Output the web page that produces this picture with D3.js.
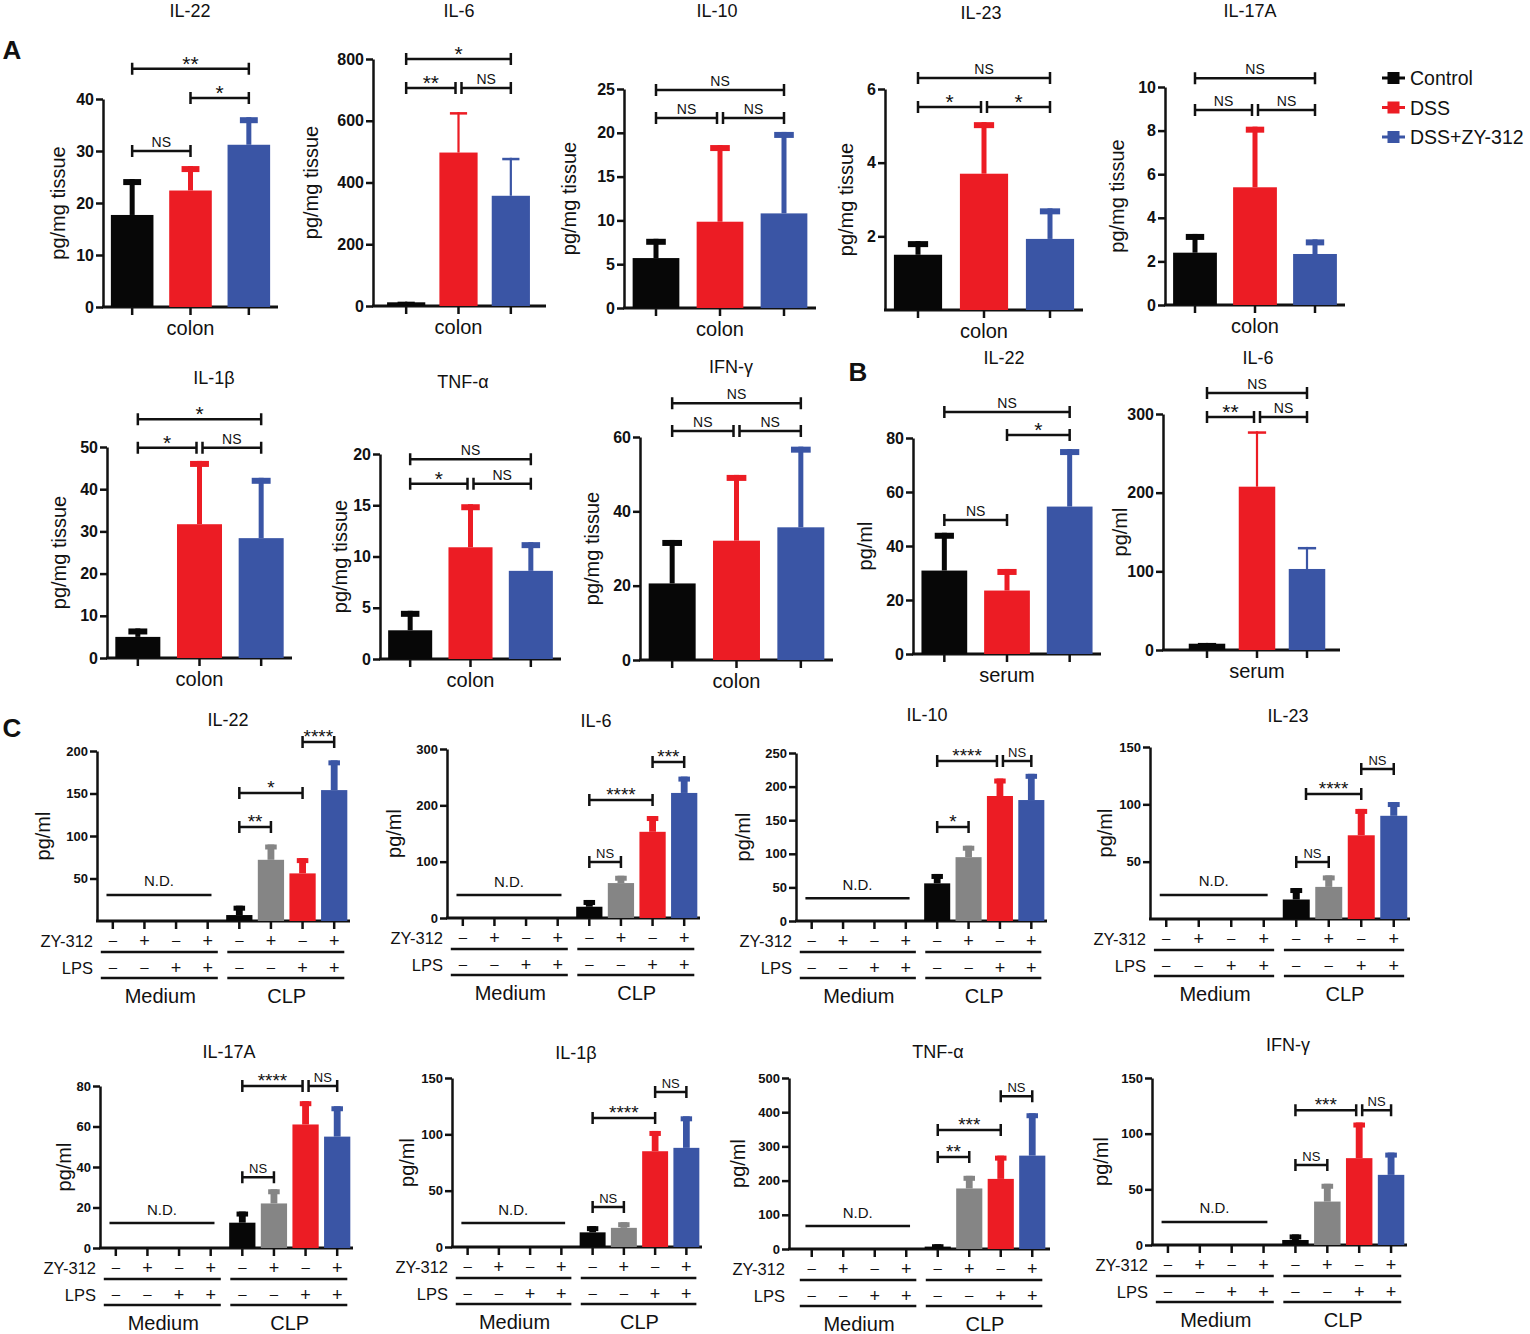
<!DOCTYPE html>
<html>
<head>
<meta charset="utf-8">
<script src="https://cdn.jsdelivr.net/npm/d3@7"></script>
<style>
  body { margin: 0; background: #fff; }
  svg { display: block; font-family: 'Liberation Sans', Arial, sans-serif; }
</style>
</head>
<body>
<svg id="fig" width="1530" height="1334"></svg>
<script>
// Cytokine bar panels (A: colon tissue, B: serum, C: cultured cells).

// ---- data ----
const dssGroups = ['Control', 'DSS', 'DSS+ZY-312'];

// A: colon, pg/mg tissue
const colonCytokines = ['IL-22', 'IL-6', 'IL-10', 'IL-23', 'IL-17A', 'IL-1β', 'TNF-α', 'IFN-γ'];
const colonMeans = [
  [17.7, 22.4, 31.2],
  [12, 497, 357],
  [5.7, 9.85, 10.8],
  [1.5, 3.7, 1.93],
  [2.4, 5.4, 2.34],
  [5, 31.7, 28.4],
  [2.8, 10.9, 8.6],
  [20.6, 32.1, 35.7],
];
const colonErrTops = [
  [24.6, 27.1, 36.5],
  [14, 628, 480],
  [7.9, 18.6, 20.1],
  [1.87, 5.1, 2.76],
  [3.26, 8.18, 3.01],
  [7, 46.7, 42.7],
  [4.7, 15.1, 11.4],
  [32.3, 49.8, 57.4],
];
const colonMax = [40, 800, 25, 6, 10, 50, 20, 60];
const colonTicks = [
  [0, 10, 20, 30, 40],
  [0, 200, 400, 600, 800],
  [0, 5, 10, 15, 20, 25],
  [2, 4, 6],
  [0, 2, 4, 6, 8, 10],
  [0, 10, 20, 30, 40, 50],
  [0, 5, 10, 15, 20],
  [0, 20, 40, 60],
];
// [from group, to group, label, level in data units]
const colonSig = [
  [[0, 2, '**', 45.8], [1, 2, '*', 40.2], [0, 1, 'NS', 30]],
  [[0, 2, '*', 800], [0, 1, '**', 706], [1, 2, 'NS', 706]],
  [[0, 2, 'NS', 24.9], [0, 1, 'NS', 21.7], [1, 2, 'NS', 21.7]],
  [[0, 2, 'NS', 6.3], [0, 1, '*', 5.51], [1, 2, '*', 5.51]],
  [[0, 2, 'NS', 10.4], [0, 1, 'NS', 8.94], [1, 2, 'NS', 8.94]],
  [[0, 2, '*', 56.6], [0, 1, '*', 49.8], [1, 2, 'NS', 49.8]],
  [[0, 2, 'NS', 19.5], [0, 1, '*', 17.1], [1, 2, 'NS', 17.1]],
  [[0, 2, 'NS', 69.1], [0, 1, 'NS', 61.6], [1, 2, 'NS', 61.6]],
];

// B: serum, pg/ml
const serumCytokines = ['IL-22', 'IL-6'];
const serumMeans = [[30.9, 23.5, 54.6], [8, 207.6, 103]];
const serumErrTops = [[44.9, 31.5, 75.9], [9, 278, 131]];
const serumMax = [80, 300];
const serumTicks = [[0, 20, 40, 60, 80], [0, 100, 200, 300]];
const serumSig = [
  [[0, 2, 'NS', 89.6], [1, 2, '*', 81.1], [0, 1, 'NS', 49.6]],
  [[0, 2, 'NS', 326.7], [0, 1, '**', 296.2], [1, 2, 'NS', 296.2]],
];

// C: Medium lanes 0-3 are N.D., CLP lanes 4-7 carry the values
const clpCytokines = ['IL-22', 'IL-6', 'IL-10', 'IL-23', 'IL-17A', 'IL-1β', 'TNF-α', 'IFN-γ'];
const cultureGroups = ['Medium', 'CLP'];
const zyRow = ['–', '+', '–', '+', '–', '+', '–', '+'];
const lpsRow = ['–', '–', '+', '+', '–', '–', '+', '+'];
const clpLanes = [4, 5, 6, 7];
const clpMeans = [
  [7, 72, 56, 154],
  [20, 62, 153, 222],
  [56, 95, 186, 180],
  [17, 28, 73, 90],
  [12.5, 22, 61, 55],
  [13, 17, 85, 88],
  [7, 177, 205, 273],
  [4.5, 39, 78, 63],
];
const clpErrTops = [
  [18, 90, 74, 189],
  [32, 75, 181, 251],
  [70, 112, 212, 219],
  [27, 38, 96, 102],
  [18, 29, 72.5, 70],
  [18.5, 22, 103, 116],
  [14, 214, 273, 397],
  [9.5, 55, 110, 83],
];
const clpMax = [200, 300, 250, 150, 80, 150, 500, 150];
const clpTicks = [
  [50, 100, 150, 200],
  [0, 100, 200, 300],
  [0, 50, 100, 150, 200, 250],
  [50, 100, 150],
  [0, 20, 40, 60, 80],
  [0, 50, 100, 150],
  [0, 100, 200, 300, 400, 500],
  [0, 50, 100, 150],
];
const clpSig = [
  [[6, 7, '****', 210.6], [4, 6, '*', 150.6], [4, 5, '**', 110.6]],
  [[6, 7, '***', 277], [4, 6, '****', 209.5], [4, 5, 'NS', 99.4]],
  [[4, 6, '****', 238], [6, 7, 'NS', 238], [4, 5, '*', 140]],
  [[6, 7, 'NS', 130.8], [4.3, 6, '****', 109], [4, 5, 'NS', 49.7]],
  [[4, 6, '****', 80], [6, 7, 'NS', 80], [4, 5, 'NS', 35]],
  [[6, 7, 'NS', 137.6], [4, 6, '****', 114.5], [4, 5, 'NS', 35.5]],
  [[6, 7, 'NS', 447], [4, 6, '***', 348], [4, 5, '**', 269]],
  [[4, 6, '***', 121], [6, 7, 'NS', 121], [4, 5, 'NS', 71.9]],
];
const clpND = [30.6, 40.8, 34, 21, 12.3, 21.3, 67, 20.7];

// ---- layout (pixel frames for each panel) ----
const colonLayout = [
  { x0: 103, x1: 278, yTop: 99, yBase: 307, yLab: 58, title: [190, 11] },
  { x0: 373, x1: 546, b0: 380, b1: 537, yTop: 59, yBase: 306, yLab: 311, title: [459, 11], thin: true },
  { x0: 624, x1: 816, yTop: 89, yBase: 308, yLab: 569, title: [717, 11] },
  { x0: 885, x1: 1083, yTop: 89, yBase: 310, yLab: 846, title: [981, 13] },
  { x0: 1165, x1: 1345, yTop: 87, yBase: 305, yLab: 1117, title: [1250, 11] },
  { x0: 107, x1: 292, yTop: 447, yBase: 658, yLab: 59, title: [214, 378] },
  { x0: 380, x1: 561, yTop: 454, yBase: 659, yLab: 340, title: [463, 382] },
  { x0: 640, x1: 833, yTop: 437, yBase: 660, yLab: 592, title: [731, 367] },
];
const serumLayout = [
  { x0: 913, x1: 1101, yTop: 438, yBase: 654, yLab: 865, title: [1004, 358] },
  { x0: 1163, x1: 1340, b0: 1182, b1: 1332, yTop: 414, yBase: 650, yLab: 1120, title: [1258, 358], thin: true },
];
const clpLayout = [
  { x0: 97, x1: 350, yTop: 751, yBase: 921, yLab: 43, title: [228, 720] },
  { x0: 447, x1: 700, yTop: 749, yBase: 918, yLab: 394, title: [596, 721] },
  { x0: 796, x1: 1047, yTop: 753, yBase: 921, yLab: 743, title: [927, 715] },
  { x0: 1150, x1: 1410, yTop: 747, yBase: 919, yLab: 1105, title: [1288, 716] },
  { x0: 100, x1: 353, yTop: 1086, yBase: 1248, yLab: 64, title: [229, 1052] },
  { x0: 452, x1: 702, yTop: 1078, yBase: 1247, yLab: 407, title: [576, 1053] },
  { x0: 789, x1: 1050, b0: 796, b1: 1048, yTop: 1078, yBase: 1249, yLab: 738, title: [938, 1052] },
  { x0: 1152, x1: 1407, yTop: 1078, yBase: 1245, yLab: 1101, title: [1288, 1045] },
];

const DSS_COLORS = ['#070707', '#ec1c24', '#3a55a5'];
const CLP_COLORS = ['#070707', '#858585', '#ec1c24', '#3a55a5'];
const FONT = "'Liberation Sans', Arial, sans-serif";

const svg = d3.select('#fig');

function addText(g, x, y, str, size, opts = {}) {
  return g.append('text')
    .attr('x', x).attr('y', y)
    .attr('font-size', size)
    .attr('font-family', FONT)
    .attr('font-weight', opts.bold ? 'bold' : 'normal')
    .attr('text-anchor', opts.anchor || 'middle')
    .attr('dominant-baseline', opts.baseline || 'central')
    .attr('fill', '#111')
    .text(str);
}

// Axes, title and y label for one panel; returns scales.
function frame(L, lanes, pad, max, ticks, tickFs, yTitle) {
  const g = svg.append('g');
  const x = d3.scaleBand()
    .domain(d3.range(lanes))
    .range([L.b0 ?? L.x0, L.b1 ?? L.x1])
    .paddingInner(pad)
    .paddingOuter(pad / 2);
  const y = d3.scaleLinear().domain([0, max]).range([L.yBase, L.yTop]);

  const ya = g.append('g')
    .attr('transform', `translate(${L.x0},0)`)
    .call(d3.axisLeft(y).tickValues(ticks).tickFormat(d3.format('d'))
      .tickSize(7).tickSizeOuter(0).tickPadding(2));
  ya.selectAll('text')
    .attr('font-size', tickFs).attr('font-weight', 'bold')
    .attr('font-family', FONT).attr('fill', '#111');
  ya.selectAll('line, path').attr('stroke', '#111').attr('stroke-width', 2.5);

  const xa = g.append('g')
    .attr('transform', `translate(0,${L.yBase})`)
    .call(d3.axisBottom(x).tickSize(8).tickFormat(''));
  xa.select('.domain').remove();
  xa.selectAll('line').attr('stroke', '#111').attr('stroke-width', 2.5);
  g.append('line')
    .attr('x1', L.x0 - 1).attr('x2', L.x1)
    .attr('y1', L.yBase).attr('y2', L.yBase)
    .attr('stroke', '#111').attr('stroke-width', 2.8);

  addText(g, 0, 0, yTitle, 20)
    .attr('transform', `translate(${L.yLab},${(L.yTop + L.yBase) / 2}) rotate(-90)`);
  return { g, x, y, L };
}

function laneCenter(P, lane) {
  return P.x(0) + P.x.bandwidth() / 2 + lane * P.x.step();
}

function bars(P, lanes, means, tops, colors, err) {
  const bw = P.x.bandwidth();
  lanes.forEach((lane, i) => {
    const cx = laneCenter(P, lane);
    const c = colors[i];
    const sw = err.stem(bw);
    const cw = err.cap(bw);
    P.g.append('rect')
      .attr('x', cx - sw / 2).attr('y', P.y(tops[i]))
      .attr('width', sw).attr('height', P.y(means[i]) - P.y(tops[i]))
      .attr('fill', c);
    P.g.append('rect')
      .attr('x', cx - cw / 2).attr('y', P.y(tops[i]))
      .attr('width', cw).attr('height', err.capH)
      .attr('fill', c);
    P.g.append('rect')
      .attr('x', P.x(lane)).attr('y', P.y(means[i]))
      .attr('width', bw).attr('height', P.y(0) - P.y(means[i]))
      .attr('fill', c);
  });
}

function brackets(P, sig, fsStar, fsNS) {
  sig.forEach((s) => {
    const [a, b, label, lvl] = s;
    // nudge ends apart where two brackets meet at the same height
    const joinA = sig.some((o) => o !== s && o[3] === lvl && o[1] === a);
    const joinB = sig.some((o) => o !== s && o[3] === lvl && o[0] === b);
    const xa = laneCenter(P, a) + (joinA ? 3 : 0);
    const xb = laneCenter(P, b) - (joinB ? 3 : 0);
    const yy = P.y(lvl);
    const path = d3.path();
    path.moveTo(xa, yy); path.lineTo(xb, yy);
    path.moveTo(xa, yy - 6); path.lineTo(xa, yy + 6);
    path.moveTo(xb, yy - 6); path.lineTo(xb, yy + 6);
    P.g.append('path').attr('d', path.toString())
      .attr('stroke', '#111').attr('stroke-width', 2.5).attr('fill', 'none');
    const star = label.includes('*');
    // asterisks sit high in the em box, so drop their baseline to centre them ~10px above the line
    const ty = star ? yy + 0.58 * fsStar - 10 : yy - 4;
    addText(P.g, (xa + xb) / 2, ty, label, star ? fsStar : fsNS, { baseline: 'auto' });
  });
}

function xLabel(P, lanes, str) {
  const cx = d3.mean(lanes, (l) => laneCenter(P, l));
  addText(P.g, cx, P.L.yBase + 21, str, 20);
}

// ---- panel A ----
colonCytokines.forEach((name, k) => {
  const L = colonLayout[k];
  const P = frame(L, 3, 0.27, colonMax[k], colonTicks[k], 16, 'pg/mg tissue');
  const err = L.thin
    ? { stem: () => 2.2, cap: (bw) => bw * 0.45, capH: 2.5 }
    : { stem: () => 5, cap: (bw) => bw * 0.42, capH: 6 };
  bars(P, [0, 1, 2], colonMeans[k], colonErrTops[k], DSS_COLORS, err);
  brackets(P, colonSig[k], 21, 14);
  xLabel(P, [0, 1, 2], 'colon');
  addText(P.g, L.title[0], L.title[1], name, 18);
});

// ---- panel B ----
serumCytokines.forEach((name, k) => {
  const L = serumLayout[k];
  const P = frame(L, 3, 0.27, serumMax[k], serumTicks[k], 16, 'pg/ml');
  const err = L.thin
    ? { stem: () => 2.2, cap: (bw) => bw * 0.5, capH: 2.5 }
    : { stem: () => 5, cap: (bw) => bw * 0.42, capH: 6 };
  bars(P, [0, 1, 2], serumMeans[k], serumErrTops[k], DSS_COLORS, err);
  brackets(P, serumSig[k], 21, 14);
  xLabel(P, [0, 1, 2], 'serum');
  addText(P.g, L.title[0], L.title[1], name, 18);
});

// ---- panel C ----
clpCytokines.forEach((name, k) => {
  const L = clpLayout[k];
  const P = frame(L, 8, 0.17, clpMax[k], clpTicks[k], 13, 'pg/ml');
  const step = P.x.step();
  bars(P, clpLanes, clpMeans[k], clpErrTops[k], CLP_COLORS,
    { stem: (bw) => bw * 0.26, cap: (bw) => bw * 0.44, capH: 5 });
  brackets(P, clpSig[k], 19, 13);

  // N.D. line over the medium lanes
  const ndY = P.y(clpND[k]);
  const nx0 = laneCenter(P, 0) - 0.2 * step;
  const nx1 = laneCenter(P, 3) + 0.12 * step;
  P.g.append('line').attr('x1', nx0).attr('x2', nx1).attr('y1', ndY).attr('y2', ndY)
    .attr('stroke', '#111').attr('stroke-width', 2.5);
  addText(P.g, (nx0 + nx1) / 2, ndY - 14, 'N.D.', 15);

  // treatment rows
  const rows = [['ZY-312', zyRow, 20, 31], ['LPS', lpsRow, 47, 57]];
  rows.forEach(([lab, signs, off, ul]) => {
    addText(P.g, L.x0 - 4, L.yBase + off, lab, 16.5, { anchor: 'end' });
    signs.forEach((s, i) => {
      addText(P.g, laneCenter(P, i), L.yBase + off - (s === '+' ? 0 : 2), s, s === '+' ? 18 : 15);
    });
    [0, 4].forEach((first) => {
      P.g.append('line')
        .attr('x1', laneCenter(P, first) - 0.38 * step)
        .attr('x2', laneCenter(P, first + 3) + 0.32 * step)
        .attr('y1', L.yBase + ul).attr('y2', L.yBase + ul)
        .attr('stroke', '#111').attr('stroke-width', 2.5);
    });
  });
  cultureGroups.forEach((grp, gi) => {
    const cx = (laneCenter(P, gi * 4) + laneCenter(P, gi * 4 + 3)) / 2;
    addText(P.g, cx, L.yBase + 75, grp, 20);
  });
  addText(P.g, L.title[0], L.title[1], name, 18);
});

// ---- legend ----
const legend = svg.append('g');
dssGroups.forEach((grp, i) => {
  const ly = 78 + i * 29.5;
  legend.append('line').attr('x1', 1382).attr('x2', 1405).attr('y1', ly).attr('y2', ly)
    .attr('stroke', DSS_COLORS[i]).attr('stroke-width', 3);
  legend.append('rect').attr('x', 1387.5).attr('y', ly - 6).attr('width', 12).attr('height', 12)
    .attr('fill', DSS_COLORS[i]);
  addText(legend, 1410, ly, grp, 19.5, { anchor: 'start' });
});

// ---- panel letters ----
addText(svg, 12, 50, 'A', 26, { bold: true });
addText(svg, 858, 372, 'B', 26, { bold: true });
addText(svg, 12, 728, 'C', 26, { bold: true });
</script>
</body>
</html>
